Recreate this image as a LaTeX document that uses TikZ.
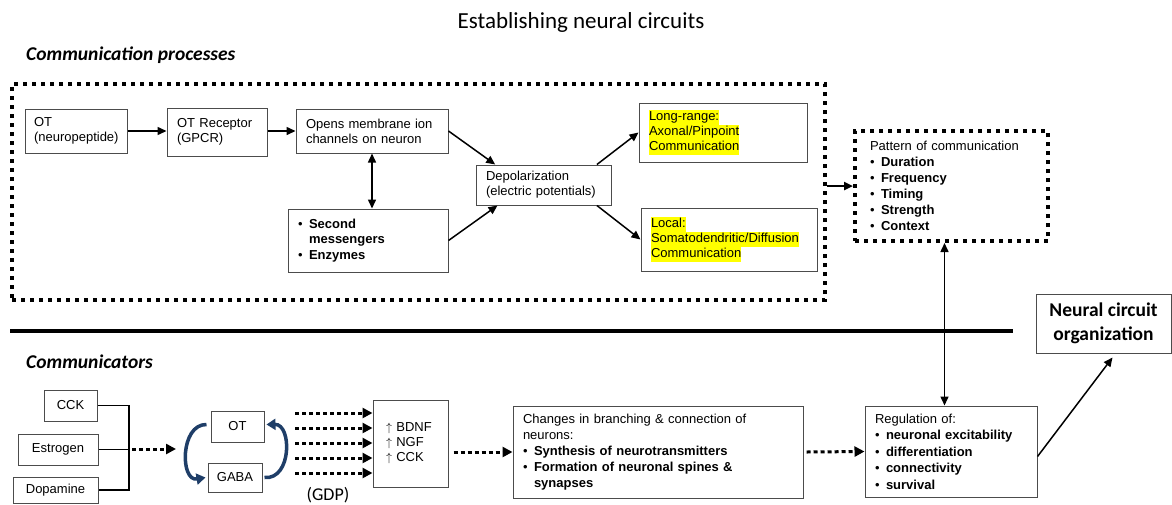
\documentclass[tikz,border=0pt]{standalone}
\usepackage{fontspec}
\setmainfont{Liberation Sans}
\newfontfamily\calibri{Carlito}
\usetikzlibrary{arrows.meta,positioning}

\definecolor{cyclenavy}{RGB}{31,62,104}
\definecolor{hlyellow}{RGB}{255,255,0}
\newcommand{\hlt}[1]{{\setlength{\fboxsep}{0pt}\colorbox{hlyellow}{\strut #1}}}
\newcommand{\itm}{\makebox[11pt][l]{\textbullet}}
\newcommand{\hng}{\hspace*{11pt}}

\tikzset{
  box/.style={rectangle, draw=black!70, line width=1pt, align=left, inner xsep=10pt, inner ysep=3pt, font=\fontsize{13}{15}\selectfont},
  smallbox/.style={rectangle, draw=black!70, line width=1pt, align=center, inner sep=2pt, font=\fontsize{13}{15}\selectfont},
  dotbox/.style={rectangle, draw, line width=4pt, dash pattern=on 4pt off 5pt},
  arrow/.style={-{Triangle[length=9pt,width=8pt]}, line width=1.5pt},
  dblarrow/.style={{Triangle[length=9pt,width=8pt]}-{Triangle[length=9pt,width=8pt]}, line width=1.5pt},
  dotarrow/.style={-{Triangle[length=10pt,width=10pt]}, line width=3pt, dash pattern=on 4pt off 3pt},
  cyclearrow/.style={-{Triangle[length=9pt,width=11pt]}, line width=3.5pt, draw=cyclenavy},
  heading/.style={font=\calibri\bfseries\itshape\fontsize{19.5}{23}\selectfont, anchor=west, inner sep=0pt},
}

\begin{document}
\begin{tikzpicture}[x=1pt,y=-1pt]
  \useasboundingbox (0,0) rectangle (1172,504);

  % Titel und Abschnitte
  \node[font=\calibri\fontsize{23}{27}\selectfont] (title) at (581,22) {Establishing neural circuits};
  \node[heading] (hproc) at (26,55)  {Communication processes};
  \node[heading] (hcomm) at (26,362) {Communicators};

  % Kommunikationsprozesse (oben)
  \node[dotbox, minimum width=813pt, minimum height=216pt] (procs) at (418.5,192) {};
  \node[box, text width=84pt, inner xsep=9pt, minimum height=44pt] (otpep)  at (76,131)    {OT\\(neuropeptide)};
  \node[box, text width=80pt,  minimum height=48pt] (otrec)  at (217,132)   {OT Receptor\\(GPCR)};
  \node[box, text width=132pt, minimum height=44pt] (opens)  at (372,131)   {Opens membrane ion\\channels on neuron};
  \node[box, text width=140pt, minimum height=63pt, font=\fontsize{13}{15.5}\selectfont] (second) at (368,240.5)
    {\itm\textbf{Second}\\\hng\textbf{messengers}\\\itm\textbf{Enzymes}};
  \node[box, text width=115pt, minimum height=40pt] (depol)  at (543.5,185) {Depolarization\\(electric potentials)};
  \node[box, text width=148pt, minimum height=59pt] (longr)  at (723,132.5) {\hlt{Long-range:}\\\hlt{Axonal/Pinpoint}\\\hlt{Communication}};
  \node[box, text width=156pt, minimum height=63pt] (local)  at (729,239.5) {\hlt{Local:}\\\hlt{Somatodendritic/Diffusion}\\\hlt{Communication}};
  \node[dotbox, align=left, text width=163pt, inner xsep=15pt, minimum height=110pt, font=\fontsize{13}{16}\selectfont] (pattern) at (951.5,186)
    {Pattern of communication\\\itm\textbf{Duration}\\\itm\textbf{Frequency}\\\itm\textbf{Timing}\\\itm\textbf{Strength}\\\itm\textbf{Context}};

  % Trennlinie
  \draw[line width=4.5pt] (10,331) -- (1013,331);

  % Kommunikatoren (unten)
  \node[smallbox, minimum width=53pt, minimum height=31pt] (cck)  at (70.5,405.5) {CCK};
  \node[smallbox, minimum width=80pt, minimum height=31pt] (estr) at (58,449.5)   {Estrogen};
  \node[smallbox, minimum width=85pt, minimum height=26pt] (dopa) at (55.5,490)   {Dopamine};
  \node[smallbox, minimum width=53pt, minimum height=31pt] (otn)  at (237.5,426.5) {OT};
  \node[smallbox, minimum width=54pt, minimum height=29pt] (gaba) at (235,477.5)  {GABA};
  \node[box, text width=49pt, inner xsep=13pt, minimum height=87pt] (bdnf) at (410.5,443.5) {$\uparrow$ BDNF\\$\uparrow$ NGF\\$\uparrow$ CCK};
  \node[font=\calibri\fontsize{18}{20}\selectfont] (gdp) at (328,495) {(GDP)};
  \node[box, text width=270pt, minimum height=92pt, font=\fontsize{13}{16}\selectfont] (changes) at (658,452)
    {Changes in branching \& connection of\\neurons:\\\itm\textbf{Synthesis of neurotransmitters}\\\itm\textbf{Formation of neuronal spines \&}\\\hng\textbf{synapses}};
  \node[box, text width=152pt, minimum height=91pt, font=\fontsize{13}{16.5}\selectfont] (regul) at (951,451.5)
    {Regulation of:\\\itm\textbf{neuronal excitability}\\\itm\textbf{differentiation}\\\itm\textbf{connectivity}\\\itm\textbf{survival}};
  \node[box, align=center, minimum width=135pt, minimum height=59pt, inner xsep=4pt, font=\calibri\bfseries\fontsize{19.5}{24}\selectfont] (neural) at (1103.5,323.5)
    {Neural circuit\\organization};

  % Verbindungen oben
  \draw[arrow] (otpep.east) -- (otpep.east -| otrec.west);
  \draw[arrow] (otrec.east |- opens.west) -- (opens.west);
  \draw[dblarrow] (opens.south) -- (opens.south |- second.north);
  \draw[arrow] (opens.east) -- (depol.157);
  \draw[arrow] (second.east) -- (depol.204);
  \draw[arrow] (depol.21) -- (longr.west);
  \draw[arrow] (depol.-21) -- (local.west);
  \draw[arrow, line width=2.5pt] (procs.east |- pattern.west) -- (pattern.west);
  \draw[dblarrow] ([xshift=-7pt]pattern.south) -- ([xshift=-7pt]pattern.south |- regul.north);

  % Verbindungen unten
  \coordinate (brk) at (129,449);
  \coordinate (cycin) at (176,449);
  \draw[line width=1.2pt] (cck.east) -| (brk) |- (dopa.east);
  \draw[line width=1.2pt] (estr.east) -- (estr.east -| brk);
  \draw[dotarrow] ([xshift=3pt]brk) -- (cycin);
  \draw[cyclearrow] ([xshift=-4pt,yshift=2pt]otn.west) .. controls (180,424) and (180,482) .. ([xshift=-2pt]gaba.west);
  \draw[cyclearrow] ([xshift=2pt]gaba.east) .. controls (292,480) and (292,424) .. ([xshift=2pt,yshift=2pt]otn.east);
  \foreach \yy [count=\i] in {413,428,443,458,473} {
    \coordinate (gdp\i) at (295,\yy);
    \draw[dotarrow] (gdp\i) -- (gdp\i -| bdnf.west);
  }
  \draw[dotarrow] ([xshift=5pt]bdnf.east |- changes.west) -- (changes.west);
  \draw[dotarrow] ([xshift=3pt]changes.east) -- (regul.west);
  \draw[arrow] ([yshift=-5pt]regul.east) -- ([xshift=9pt,yshift=-4pt]neural.south);
\end{tikzpicture}
\end{document}
